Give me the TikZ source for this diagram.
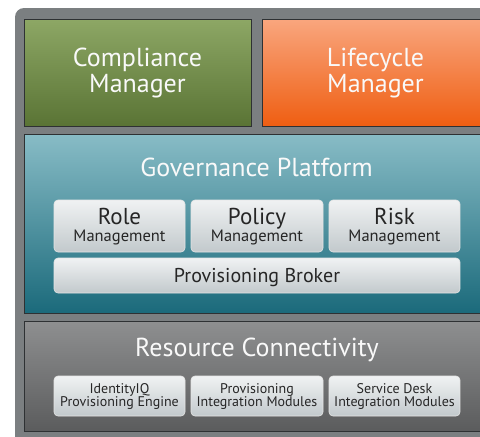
\documentclass[tikz,border=0pt]{standalone}
\usepackage{fontspec}
\setmainfont{PT Sans}
\definecolor{framegray}{HTML}{7B7F81}
\definecolor{greentop}{HTML}{8DA765}
\definecolor{greenbot}{HTML}{5A7435}
\definecolor{orangetop}{HTML}{F9A67E}
\definecolor{orangebot}{HTML}{EF5E12}
\definecolor{tealtop}{HTML}{88BCC6}
\definecolor{tealbot}{HTML}{1B6A7B}
\definecolor{graytop}{HTML}{8E8F90}
\definecolor{graybot}{HTML}{5B5C5D}
\definecolor{subtop}{HTML}{F0F2F3}
\definecolor{subbot}{HTML}{C2C9CC}
\definecolor{edgedark}{HTML}{2E3133}
\begin{document}
\begin{tikzpicture}[x=1pt,y=-1pt,
  bigbox/.style={draw=edgedark, line width=0.9pt},
  titletext/.style={text=white!95!gray, font=\fontsize{26}{26}\selectfont, anchor=base, inner sep=0pt},
  subbox/.style={draw=white!80!gray, line width=0.6pt, rounded corners=4pt,
    top color=subtop, bottom color=subbot},
  bigsub/.style={text=black!85, font=\fontsize{23}{23}\selectfont, anchor=base, inner sep=0pt},
  smallsub/.style={text=black!85, font=\fontsize{16.5}{16.5}\selectfont, anchor=base, inner sep=0pt},
  brokertext/.style={text=black!85, font=\fontsize{20}{20}\selectfont, anchor=base, inner sep=0pt},
  tinysub/.style={text=black!85, font=\fontsize{14}{14}\selectfont, anchor=base, inner sep=0pt},
]
\useasboundingbox (0,0) rectangle (480,437);
\clip (0,0) rectangle (480,437);
\fill[white] (0,0) rectangle (480,437);
% outer frame
\fill[framegray, rounded corners=9pt] (15,450) -- (15,8) -- (500,8) [sharp corners] -- (500,450) -- cycle;
% top boxes
\path[bigbox, top color=greentop, bottom color=greenbot] (24,19) rectangle (251,126);
\node[titletext] (comp1) at (137.5,66) {Compliance};
\node[titletext] (comp2) at (137.5,92) {Manager};
\path[bigbox, top color=orangetop, bottom color=orangebot] (262,19) rectangle (495,126);
\node[titletext] (life1) at (375.5,66) {Lifecycle};
\node[titletext] (life2) at (375.5,92) {Manager};
% governance
\path[bigbox, top color=tealtop, bottom color=tealbot] (24,134) rectangle (495,313);
\node[titletext] (gov) at (256.5,176) {Governance Platform};
\path[subbox] (54,200) rectangle (185,252);
\path[subbox] (191,200) rectangle (323,252);
\path[subbox] (329,200) rectangle (460,252);
\node[bigsub] (role) at (119.5,224) {Role};
\node[smallsub] (rolem) at (119.5,241) {Management};
\node[bigsub] (policy) at (257,224) {Policy};
\node[smallsub] (policym) at (257,241) {Management};
\node[bigsub] (risk) at (394.5,224) {Risk};
\node[smallsub] (riskm) at (394.5,241) {Management};
\path[subbox] (54,258) rectangle (460,293);
\node[brokertext] (broker) at (257,282) {Provisioning Broker};
% resource
\path[bigbox, top color=graytop, bottom color=graybot] (24,321) rectangle (495,431);
\node[titletext] (res) at (257,356) {Resource Connectivity};
\path[subbox] (54,376) rectangle (185,416);
\path[subbox] (191,376) rectangle (323,416);
\path[subbox] (329,376) rectangle (460,416);
\node[tinysub] (iiq1) at (119.5,393) {IdentityIQ};
\node[tinysub] (iiq2) at (119.5,406.5) {Provisioning Engine};
\node[tinysub] (pim1) at (257,393) {Provisioning};
\node[tinysub] (pim2) at (257,406.5) {Integration Modules};
\node[tinysub] (sd1) at (394.5,393) {Service Desk};
\node[tinysub] (sd2) at (394.5,406.5) {Integration Modules};
\end{tikzpicture}
\end{document}
